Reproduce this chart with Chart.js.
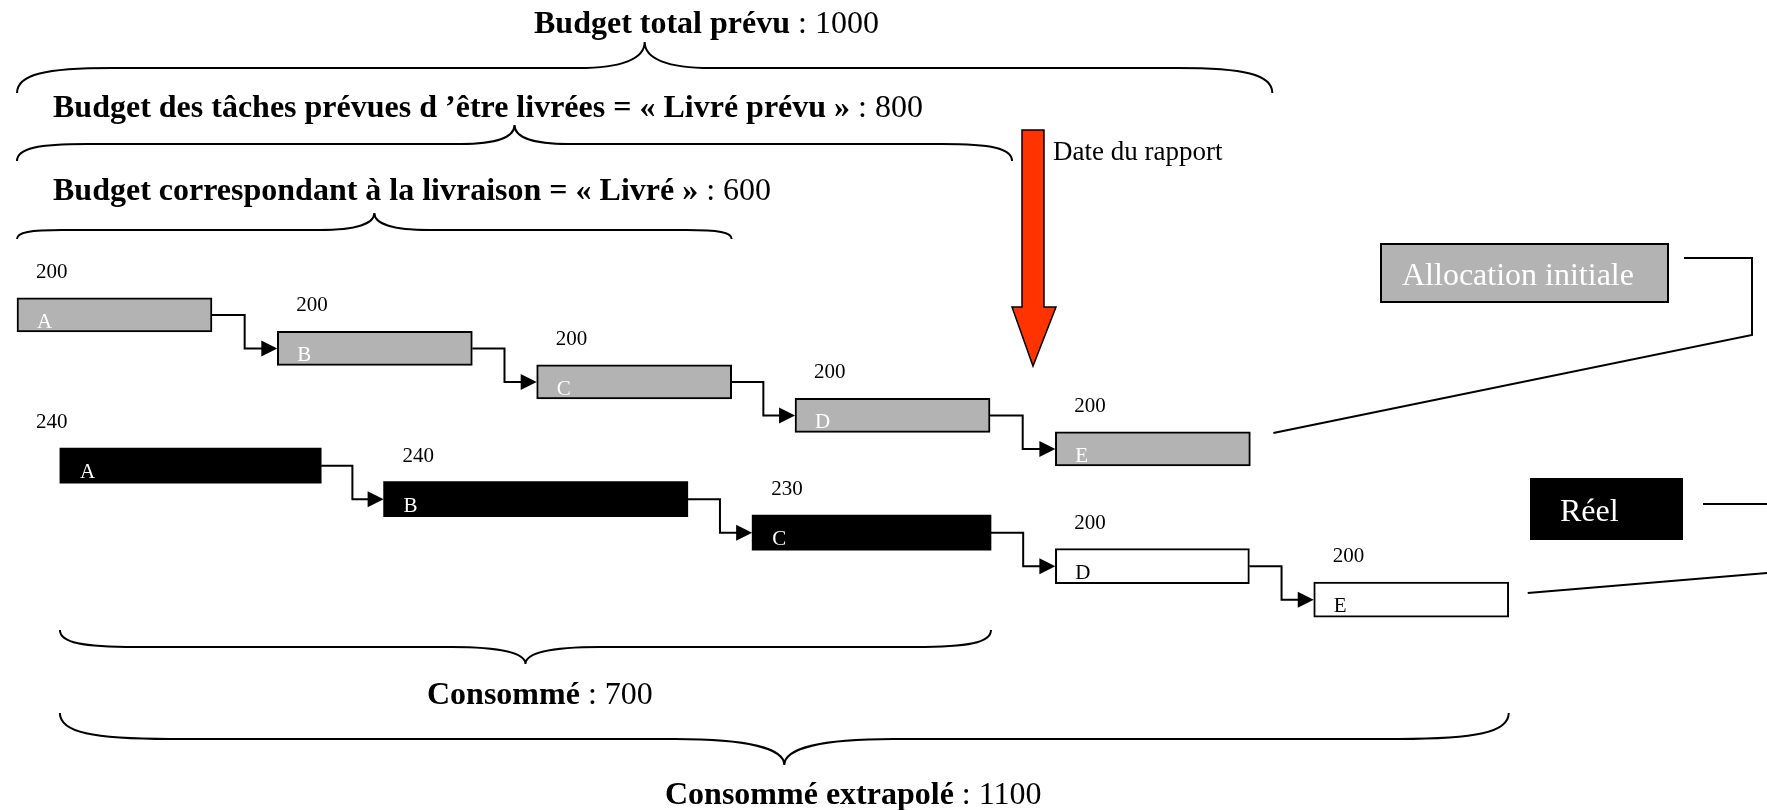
<!DOCTYPE html>
<html lang="fr">
<head>
<meta charset="utf-8">
<title>Budget prévu / consommé</title>
<script src="https://cdn.jsdelivr.net/npm/chart.js@4.4.1/dist/chart.umd.min.js"></script>
<style>
  html, body { margin: 0; padding: 0; background: #fff; }
  #wrap { width: 1767px; height: 810px; position: relative; }
</style>
</head>
<body>
<div id="wrap"><canvas id="gantt"></canvas></div>
<script>
// Tasks and budgets
const tasks = ["A", "B", "C", "D", "E"];
const plannedBudget = [200, 200, 200, 200, 200];
const realBudget = [240, 240, 230, 200, 200];

// Position of each task on the time line (diagram units)
const plannedStart = [0, 267, 533, 798, 1065];
const realStart = [44, 376, 754, 1065, 1330];
const realEnd = [312, 688, 999, 1264, 1530];
const realDone = [true, true, true, false, false];

// Rows (planned line on top, real line below)
const plannedRow = [0, 1, 2, 3, 4];
const realRow = [4.5, 5.5, 6.5, 7.5, 8.5];

// Totals written under / over the braces
const summaryTitles = ["Budget total prévu", "Budget des tâches prévues d \u2019être livrées = « Livré prévu »",
  "Budget correspondant à la livraison = « Livré »", "Consommé", "Consommé extrapolé"];
const summaryValues = [1000, 800, 600, 700, 1100];

const GRAY = "#b3b3b3";
const FONT = "'Liberation Serif', 'Times New Roman', serif";

// 1. Annotations drawn on top of the bars
const diagramPlugin = {
  id: "diagram",
  afterDatasetsDraw(chart) {
    const ctx = chart.ctx;
    const xs = chart.scales.x;
    const planned = chart.getDatasetMeta(0).data.map((el) => el.getProps(["x", "y", "base", "height"], true));
    const real = chart.getDatasetMeta(1).data.map((el) => el.getProps(["x", "y", "base", "height"], true));

    ctx.save();
    ctx.strokeStyle = "#000";
    ctx.fillStyle = "#000";
    ctx.lineWidth = 2;

    // A. links between consecutive tasks
    [planned, real].forEach((bars) => {
      for (let i = 0; i < bars.length - 1; i++) {
        const a = bars[i], b = bars[i + 1];
        const x0 = Math.max(a.x, a.base), x1 = Math.min(b.x, b.base);
        const mid = (x0 + x1) / 2;
        ctx.beginPath();
        ctx.moveTo(x0, a.y);
        ctx.lineTo(mid, a.y);
        ctx.lineTo(mid, b.y);
        ctx.lineTo(x1 - 14, b.y);
        ctx.stroke();
        ctx.beginPath();
        ctx.moveTo(x1, b.y);
        ctx.lineTo(x1 - 16, b.y - 8);
        ctx.lineTo(x1 - 16, b.y + 8);
        ctx.closePath();
        ctx.fill();
      }
    });

    // B. value labels and task letters
    ctx.font = "21px " + FONT;
    ctx.textBaseline = "alphabetic";
    ctx.textAlign = "left";
    planned.forEach((p, i) => {
      const left = Math.min(p.x, p.base);
      const top = p.y - p.height / 2, bottom = p.y + p.height / 2;
      ctx.fillStyle = "#000";
      ctx.fillText(String(plannedBudget[i]), left + 19, top - 20);
      ctx.fillStyle = "#fff";
      ctx.fillText(tasks[i], left + 20, bottom - 4);
    });
    real.forEach((p, i) => {
      const left = Math.min(p.x, p.base);
      const top = p.y - p.height / 2, bottom = p.y + p.height / 2;
      ctx.fillStyle = "#000";
      const lx = i === 0 ? planned[0].base + 19 : left + 19;
      ctx.fillText(String(realBudget[i]), lx, top - 20);
      ctx.fillStyle = realDone[i] ? "#fff" : "#000";
      ctx.fillText(tasks[i], left + 20, bottom - 5);
    });

    // C. braces
    ctx.strokeStyle = "#000";
    ctx.lineWidth = 2;
    const pStart = planned[0].base;
    const rStart = real[0].base;
    const braces = [
      { x0: pStart, x1: xs.getPixelForValue(plannedStart[4] + plannedBudget[4]) + 22, yb: 68, dir: -1, tipD: 26, endD: 25, endW: 95, tipW: 66 },
      { x0: pStart, x1: xs.getPixelForValue(plannedStart[3] + plannedBudget[3]) + 22, yb: 144, dir: -1, tipD: 19, endD: 17, endW: 70, tipW: 54 },
      { x0: pStart, x1: xs.getPixelForValue(plannedStart[2] + plannedBudget[2]), yb: 230, dir: -1, tipD: 17, endD: 9, endW: 45, tipW: 55 },
      { x0: rStart, x1: real[2].x, yb: 647, dir: 1, tipD: 17, endD: 17, endW: 76, tipW: 74 },
      { x0: rStart, x1: real[4].x, yb: 739, dir: 1, tipD: 26, endD: 26, endW: 110, tipW: 109 },
    ];
    braces.forEach((b) => drawBrace(ctx, b));

    // D. texts of the braces
    const textPos = [[534, 33], [53, 117], [53, 200], [427, 704], [665, 804]];
    summaryTitles.forEach((t, i) => {
      const [tx, ty] = textPos[i];
      ctx.fillStyle = "#000";
      ctx.font = "bold 32px " + FONT;
      ctx.fillText(t, tx, ty);
      const w = ctx.measureText(t).width;
      ctx.font = "32px " + FONT;
      ctx.fillText(" : " + summaryValues[i], tx + w, ty);
    });

    // E. report date arrow
    const ax = 1033;
    ctx.beginPath();
    ctx.moveTo(ax - 11, 130);
    ctx.lineTo(ax + 11, 130);
    ctx.lineTo(ax + 11, 307);
    ctx.lineTo(ax + 23, 307);
    ctx.lineTo(ax, 366);
    ctx.lineTo(ax - 21, 307);
    ctx.lineTo(ax - 11, 307);
    ctx.closePath();
    ctx.fillStyle = "#ff3300";
    ctx.fill();
    ctx.lineWidth = 1.5;
    ctx.stroke();
    ctx.fillStyle = "#000";
    ctx.font = "27px " + FONT;
    ctx.fillText("Date du rapport", 1053, 160);

    // F. legend boxes and their leader lines
    ctx.lineWidth = 2;
    ctx.fillStyle = GRAY;
    ctx.fillRect(1380, 243, 289, 60);
    ctx.strokeRect(1381, 244, 287, 58);
    ctx.fillStyle = "#fff";
    ctx.font = "32px " + FONT;
    ctx.fillText("Allocation initiale", 1402, 285);

    ctx.fillStyle = "#000";
    ctx.fillRect(1530, 478, 153, 62);
    ctx.fillStyle = "#fff";
    ctx.fillText("Réel", 1560, 521);

    ctx.beginPath();
    ctx.moveTo(1684, 258);
    ctx.lineTo(1752, 258);
    ctx.lineTo(1752, 335);
    ctx.lineTo(Math.max(planned[4].x, planned[4].base) + 23, 433);
    ctx.stroke();

    ctx.beginPath();
    ctx.moveTo(1703, 504);
    ctx.lineTo(1790, 504);
    ctx.stroke();

    ctx.beginPath();
    ctx.moveTo(Math.max(real[4].x, real[4].base) + 19, 593);
    ctx.lineTo(1790, 571);
    ctx.stroke();

    ctx.restore();
  },
};

function drawBrace(ctx, b) {
  const { x0, x1, yb, dir, tipD, endD, endW, tipW } = b;
  const xt = (x0 + x1) / 2;
  const yEnd = yb - dir * endD;
  const yTip = yb + dir * tipD;
  ctx.beginPath();
  ctx.moveTo(x0, yEnd);
  ctx.bezierCurveTo(x0, yb + (yEnd - yb) * 0.25, x0 + endW * 0.3, yb, x0 + endW, yb);
  ctx.lineTo(xt - tipW, yb);
  ctx.bezierCurveTo(xt - tipW * 0.35, yb, xt, yb + (yTip - yb) * 0.35, xt, yTip);
  ctx.bezierCurveTo(xt, yb + (yTip - yb) * 0.35, xt + tipW * 0.35, yb, xt + tipW, yb);
  ctx.lineTo(x1 - endW, yb);
  ctx.bezierCurveTo(x1 - endW * 0.3, yb, x1, yb + (yEnd - yb) * 0.25, x1, yEnd);
  ctx.stroke();
}

// 2. Build the chart
const plannedData = tasks.map((t, i) => ({ x: [plannedStart[i], plannedStart[i] + plannedBudget[i]], y: plannedRow[i] }));
const realData = tasks.map((t, i) => ({ x: [realStart[i], realEnd[i]], y: realRow[i] }));

new Chart(document.getElementById("gantt"), {
  type: "bar",
  data: {
    datasets: [
      {
        label: "Allocation initiale",
        data: plannedData,
        backgroundColor: GRAY,
        borderColor: "#000",
        borderWidth: 2,
        borderSkipped: false,
        barThickness: 34,
        grouped: false,
      },
      {
        label: "Réel",
        data: realData,
        backgroundColor: realDone.map((d) => (d ? "#000" : "#fff")),
        borderColor: "#000",
        borderWidth: realDone.map((d) => (d ? 0 : 2)),
        borderSkipped: false,
        barThickness: 35,
        grouped: false,
      },
    ],
  },
  options: {
    indexAxis: "y",
    responsive: true,
    maintainAspectRatio: false,
    animation: false,
    layout: { padding: 0 },
    plugins: { legend: { display: false }, tooltip: { enabled: false } },
    scales: {
      x: { type: "linear", min: -17.44, max: 1794.9, offset: false, display: false },
      y: { type: "linear", min: -9.4, max: 14.78, reverse: true, offset: false, display: false },
    },
  },
  plugins: [diagramPlugin],
});
</script>
</body>
</html>
